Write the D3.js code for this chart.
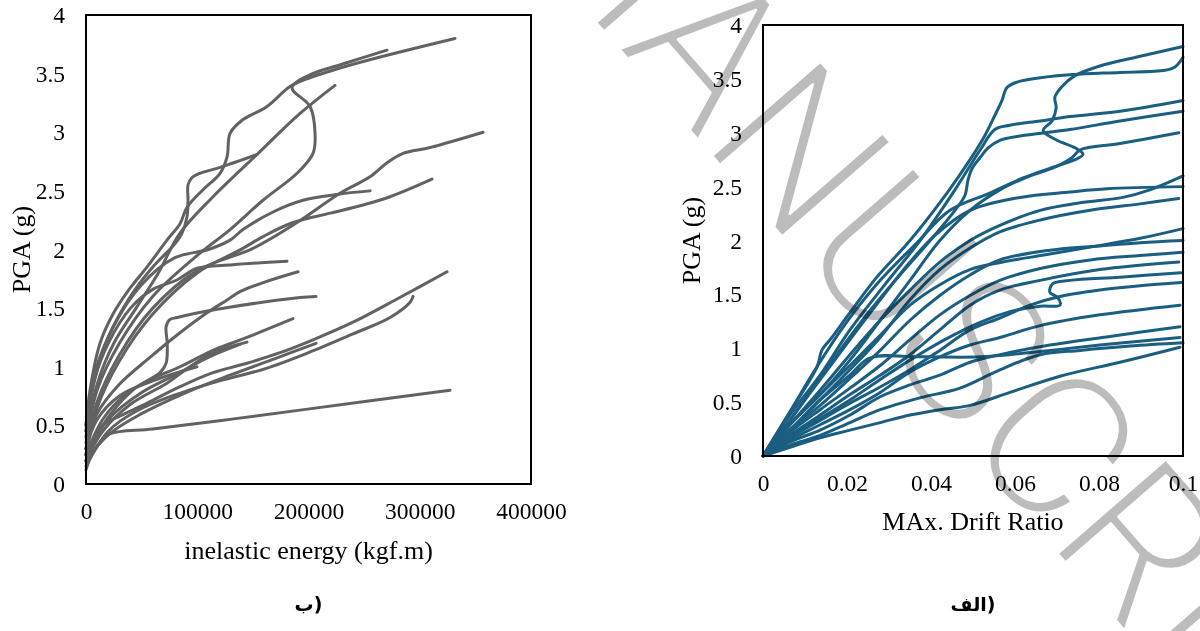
<!DOCTYPE html>
<html><head><meta charset="utf-8">
<script src="https://cdn.jsdelivr.net/npm/d3@7"></script>
<style>html,body{margin:0;padding:0;background:#fff;}svg{display:block;}</style>
</head><body>
<svg id="c" width="1200" height="631"></svg>
<script>
// ---------- tick labels ----------
const pgaTicks = [0, 0.5, 1, 1.5, 2, 2.5, 3, 3.5, 4];
const energyTicks = [0, 100000, 200000, 300000, 400000];
const driftTicks = [0, 0.02, 0.04, 0.06, 0.08, 0.1];

// ---------- panel (ب): inelastic energy (kgf.m) vs PGA (g) ----------
const L01 = [[0,0.5],[3600,0.8],[12600,1.2],[24300,1.45],[39600,1.67],[54800,1.85],[72800,2.08],[84500,2.22],[90800,2.36],[105200,2.51],[120500,2.65],[126800,2.79],[129500,2.99],[140000,3.1],[162700,3.22],[183400,3.39],[200000,3.46],[240000,3.58],[331700,3.80]];
const L02 = [[0,0.35],[10000,0.8],[30000,1.2],[60000,1.6],[100000,1.95],[129500,2.17],[159100,2.42],[189700,2.65],[204100,2.82],[205900,2.99],[201400,3.22],[185200,3.38],[201400,3.49],[230000,3.58],[270600,3.70]];
const L03 = [[0,0.4],[10000,0.85],[25000,1.2],[45000,1.5],[65000,1.8],[84500,2.14],[114200,2.45],[153700,2.81],[192400,3.16],[223800,3.40]];
const L04 = [[0,0.45],[8000,0.9],[20000,1.25],[40000,1.6],[60000,1.85],[80000,2.05],[86300,2.14],[90800,2.28],[91700,2.42],[91700,2.55],[95000,2.61],[102500,2.65],[120500,2.70],[153700,2.81]];
const L05 = [[0,0.3],[10000,0.7],[30000,1.1],[60000,1.5],[100000,1.82],[150100,2.01],[189700,2.23],[228300,2.48],[255300,2.62],[270600,2.74],[285000,2.82],[309300,2.87],[356900,3.00]];
const L06 = [[0,0.25],[10000,0.65],[30000,1.05],[60000,1.45],[100000,1.8],[141100,2.01],[159100,2.11],[186100,2.23],[219400,2.31],[249000,2.38],[273300,2.45],[311000,2.60]];
const L07 = [[0,0.5],[8000,0.95],[25000,1.35],[50000,1.7],[80000,1.93],[110000,2.0],[129500,2.08],[141100,2.17],[168100,2.32],[195100,2.42],[225600,2.47],[255300,2.50]];
const L08 = [[0,0.45],[8000,0.9],[20000,1.2],[40000,1.5],[60000,1.66],[81800,1.74],[99800,1.84],[132100,1.87],[180700,1.90]];
const L09 = [[0,0.3],[10000,0.6],[30000,0.85],[57500,1.08],[84500,1.29],[108800,1.46],[126800,1.57],[138400,1.64],[160000,1.72],[190600,1.81]];
const L10 = [[0,0.2],[15000,0.5],[42000,0.8],[66500,0.95],[72000,1.03],[73000,1.2],[72000,1.34],[75000,1.4],[82000,1.42],[118000,1.49],[192400,1.59],[206800,1.60]];
const L11 = [[0,0.25],[15000,0.55],[35000,0.76],[57500,0.89],[84500,1.0],[114200,1.14],[144700,1.25],[186000,1.41]];
const L12 = [[0,0.2],[15000,0.45],[40000,0.68],[72800,0.86],[93500,1.0],[114200,1.12],[144700,1.21]];
const L13 = [[0,0.25],[20000,0.55],[50000,0.78],[80000,0.93],[110000,1.08],[138400,1.19]];
const L14 = [[0,0.3],[10000,0.55],[30000,0.75],[60000,0.88],[99800,1.0]];
const L15 = [[0,0.25],[15000,0.5],[30600,0.58],[55000,0.69],[84500,0.83],[114200,0.95],[144700,1.03],[174400,1.12],[204100,1.23],[240000,1.38],[280000,1.58],[324500,1.81]];
const L16 = [[0,0.15],[20000,0.45],[45000,0.62],[80000,0.76],[120000,0.88],[160000,0.98],[200000,1.12],[240000,1.28],[273300,1.42],[291300,1.55],[294000,1.60]];
const L17 = [[0,0.2],[20000,0.42],[50000,0.6],[90000,0.78],[130000,0.93],[170000,1.07],[206800,1.20]];
const L18 = [[0,0.12],[5000,0.25],[13000,0.36],[21600,0.43],[60000,0.47],[120000,0.54],[192400,0.63],[327200,0.80]];
const energyCurves = [L01,L02,L03,L04,L05,L06,L07,L08,L09,L10,L11,L12,L13,L14,L15,L16,L17,L18];

// ---------- panel (الف): max drift ratio vs PGA (g) ----------
const R01 = [[0,0],[0.0064,0.41],[0.0124,0.80],[0.0195,1.22],[0.0279,1.63],[0.0362,1.96],[0.0445,2.28],[0.054,2.44],[0.0619,2.58],[0.0683,2.67],[0.0743,2.75],[0.0762,2.80],[0.0743,2.86],[0.07,2.93],[0.0667,3.02],[0.0688,3.11],[0.0698,3.23],[0.0695,3.33],[0.0712,3.43],[0.0743,3.53],[0.0802,3.62],[0.0898,3.71],[0.1,3.80]];
const R02 = [[0,0],[0.0071,0.45],[0.0129,0.83],[0.014,0.98],[0.0164,1.10],[0.0207,1.33],[0.0271,1.66],[0.035,2.00],[0.0438,2.44],[0.0493,2.75],[0.0529,2.98],[0.0552,3.16],[0.0569,3.30],[0.0581,3.42],[0.0605,3.47],[0.066,3.51],[0.0738,3.54],[0.085,3.56],[0.0957,3.58],[0.0981,3.61],[0.0993,3.66],[0.1,3.70]];
const R03 = [[0,0],[0.0064,0.38],[0.0136,0.75],[0.0207,1.17],[0.029,1.59],[0.0374,2.00],[0.0457,2.47],[0.0517,2.84],[0.0552,3.03],[0.0588,3.07],[0.066,3.11],[0.0731,3.15],[0.085,3.20],[0.1,3.30]];
const R04 = [[0,0],[0.0064,0.33],[0.0124,0.66],[0.0183,0.98],[0.0255,1.35],[0.0326,1.68],[0.0398,2.00],[0.0457,2.28],[0.0481,2.42],[0.0488,2.56],[0.0498,2.67],[0.0517,2.77],[0.0536,2.86],[0.0564,2.93],[0.0612,2.97],[0.0671,3.00],[0.0731,3.03],[0.085,3.11],[0.1,3.20]];
const R05 = [[0,0],[0.0064,0.29],[0.0136,0.57],[0.0207,0.89],[0.0279,1.26],[0.035,1.63],[0.0421,2.00],[0.0493,2.28],[0.0564,2.47],[0.0636,2.60],[0.0695,2.68],[0.0736,2.77],[0.0755,2.84],[0.085,2.90],[0.099,3.00]];
const R06 = [[0,0],[0.0064,0.29],[0.0136,0.61],[0.0207,0.94],[0.0279,1.26],[0.035,1.54],[0.0421,1.80],[0.0493,2.00],[0.0564,2.14],[0.066,2.28],[0.0755,2.35],[0.0857,2.40],[0.0921,2.47],[0.1,2.60]];
const R07 = [[0,0],[0.0064,0.33],[0.0136,0.71],[0.0207,1.08],[0.0279,1.45],[0.035,1.80],[0.041,2.05],[0.0493,2.28],[0.0612,2.40],[0.0731,2.45],[0.0819,2.48],[0.1,2.50]];
const R08 = [[0,0],[0.0064,0.24],[0.0136,0.52],[0.0207,0.80],[0.0279,1.10],[0.035,1.45],[0.0421,1.73],[0.0493,1.93],[0.0564,2.08],[0.066,2.19],[0.0779,2.28],[0.0898,2.34],[0.099,2.39]];
const R09 = [[0,0],[0.0064,0.29],[0.0136,0.57],[0.0207,0.84],[0.0279,1.12],[0.035,1.40],[0.0421,1.59],[0.0493,1.73],[0.0571,1.80],[0.0676,1.87],[0.0779,1.94],[0.0898,2.02],[0.1,2.11]];
const R10 = [[0,0],[0.0064,0.24],[0.0136,0.47],[0.0207,0.72],[0.0279,0.98],[0.035,1.26],[0.0421,1.49],[0.0493,1.68],[0.0564,1.82],[0.0683,1.91],[0.0802,1.95],[0.0898,1.98],[0.1,2.00]];
const R11 = [[0,0],[0.0064,0.22],[0.0136,0.43],[0.0207,0.63],[0.0279,0.84],[0.035,1.08],[0.0421,1.31],[0.0493,1.49],[0.0564,1.63],[0.066,1.74],[0.0779,1.82],[0.0898,1.86],[0.1,1.89]];
const R12 = [[0,0],[0.0064,0.19],[0.0136,0.38],[0.0207,0.57],[0.0279,0.75],[0.035,0.94],[0.0421,1.17],[0.0493,1.40],[0.0564,1.54],[0.066,1.63],[0.0802,1.73],[0.099,1.80]];
const R13 = [[0,0],[0.0064,0.19],[0.0136,0.35],[0.0207,0.52],[0.0279,0.71],[0.035,0.89],[0.0433,1.08],[0.0517,1.24],[0.0588,1.34],[0.066,1.39],[0.0707,1.40],[0.0702,1.47],[0.0683,1.52],[0.069,1.60],[0.0731,1.63],[0.085,1.66],[0.0995,1.70]];
const R14 = [[0,0],[0.0064,0.17],[0.0136,0.33],[0.0207,0.49],[0.0279,0.64],[0.035,0.80],[0.0421,0.98],[0.0493,1.17],[0.0564,1.28],[0.0636,1.40],[0.0707,1.48],[0.0802,1.54],[0.0898,1.58],[0.0995,1.61]];
const R15 = [[0,0],[0.0064,0.15],[0.0136,0.29],[0.0207,0.43],[0.0279,0.59],[0.035,0.78],[0.0421,0.92],[0.0493,1.03],[0.0564,1.10],[0.066,1.21],[0.0802,1.31],[0.0993,1.40]];
const R16 = [[0,0],[0.0064,0.13],[0.0136,0.24],[0.0207,0.38],[0.0279,0.55],[0.035,0.66],[0.0421,0.75],[0.0493,0.87],[0.0564,0.94],[0.0683,1.03],[0.0826,1.11],[0.0993,1.20]];
const R17 = [[0,0],[0.0064,0.24],[0.0136,0.52],[0.0207,0.75],[0.0255,0.91],[0.0374,0.92],[0.0517,0.92],[0.066,0.97],[0.0802,1.03],[0.0993,1.10]];
const R18 = [[0,0],[0.0064,0.10],[0.0136,0.19],[0.0207,0.31],[0.0279,0.43],[0.0374,0.54],[0.0469,0.63],[0.0564,0.80],[0.066,0.94],[0.0755,0.98],[0.0874,1.02],[0.1,1.05]];
const R19 = [[0,0],[0.0064,0.08],[0.0136,0.17],[0.0207,0.24],[0.0279,0.31],[0.035,0.38],[0.0421,0.43],[0.0493,0.47],[0.0588,0.59],[0.0707,0.74],[0.085,0.87],[0.0993,1.01]];
const driftCurves = [R01,R02,R03,R04,R05,R06,R07,R08,R09,R10,R11,R12,R13,R14,R15,R16,R17,R18,R19];

// ---------- texts ----------
const yTitle = "PGA (g)";
const energyTitle = "inelastic energy (kgf.m)";
const driftTitle = "MAx. Drift Ratio";
const captionB = "ب)";
const captionA = "الف)";
const watermarkHead = "ACCEPTED MA";
const watermarkTail = "NUSCRIPT";

// ---------- drawing ----------
const svg = d3.select("#c");
const SERIF = "'Liberation Serif','Times New Roman',serif";

function drawPanel(o) {
  const x = d3.scaleLinear().domain(o.xDomain).range([o.left, o.right]);
  const y = d3.scaleLinear().domain([0, 4]).range([o.bottom, o.top]);
  const g = svg.append("g");

  const line = d3.line()
    .x(d => x(d[0])).y(d => y(d[1]))
    .curve(d3.curveCatmullRom.alpha(0.5));

  g.append("g").selectAll("path").data(o.curves).join("path")
    .attr("d", line)
    .attr("fill", "none")
    .attr("stroke", o.color)
    .attr("stroke-width", 3)
    .attr("stroke-linecap", "round")
    .attr("stroke-linejoin", "round");

  g.append("rect")
    .attr("x", o.left).attr("y", o.top)
    .attr("width", o.right - o.left).attr("height", o.bottom - o.top)
    .attr("fill", "none").attr("stroke", "#000").attr("stroke-width", 2);

  const ya = g.append("g").attr("transform", `translate(${o.left},0)`)
    .call(d3.axisLeft(y).tickValues(pgaTicks).tickSize(0).tickPadding(21).tickFormat(d3.format("")));
  const xa = g.append("g").attr("transform", `translate(0,${o.bottom})`)
    .call(d3.axisBottom(x).tickValues(o.xTicks).tickSize(0).tickPadding(18).tickFormat(o.xFormat));
  [ya, xa].forEach(a => {
    a.select(".domain").remove();
    a.selectAll("text").attr("font-family", SERIF).attr("font-size", 23.5).attr("fill", "#000");
  });

  g.append("text")
    .attr("x", (o.left + o.right) / 2).attr("y", o.xTitleY)
    .attr("text-anchor", "middle")
    .attr("font-family", SERIF).attr("font-size", 26).attr("fill", "#000")
    .text(o.xTitle);

  g.append("text")
    .attr("transform", `translate(${o.yTitleX},${(o.top + o.bottom) / 2}) rotate(-90)`)
    .attr("text-anchor", "middle")
    .attr("font-family", SERIF).attr("font-size", 26).attr("fill", "#000")
    .text(yTitle);

  g.append("text")
    .attr("x", (o.left + o.right) / 2).attr("y", 611)
    .attr("text-anchor", "middle")
    .attr("direction", "ltr")
    .attr("font-family", "'DejaVu Sans',sans-serif").attr("font-weight", "bold")
    .attr("font-size", 19).attr("fill", "#000")
    .text(o.caption);
}

drawPanel({
  left: 86, right: 531, top: 15, bottom: 484,
  xDomain: [0, 400000], xTicks: energyTicks, xFormat: d3.format("d"),
  curves: energyCurves, color: "#626262",
  xTitle: energyTitle, xTitleY: 559, yTitleX: 30, caption: captionB
});

drawPanel({
  left: 763, right: 1183, top: 25, bottom: 456,
  xDomain: [0, 0.1], xTicks: driftTicks, xFormat: d => d === 0 ? "0" : String(+d.toFixed(2)),
  curves: driftCurves, color: "#1a5e81",
  xTitle: driftTitle, xTitleY: 530, yTitleX: 700, caption: captionA
});

// watermark (thin grey letters multiplied over the chart)
const wm = svg.append("g")
  .attr("transform", "translate(700,142) rotate(49)")
  .style("mix-blend-mode", "multiply")
  .attr("font-family", "'Roboto Light','Lato Light',Roboto,'Open Sans',sans-serif")
  .attr("font-weight", 300)
  .attr("font-size", 202)
  .attr("fill", "#bcbcbc")
  .attr("stroke", "#ffffff")
  .attr("stroke-width", 2.5)
  .attr("stroke-linejoin", "round");
wm.append("text").attr("text-anchor", "end").text(watermarkHead);
wm.append("text").attr("text-anchor", "start").text(watermarkTail);
</script>
</body></html>
